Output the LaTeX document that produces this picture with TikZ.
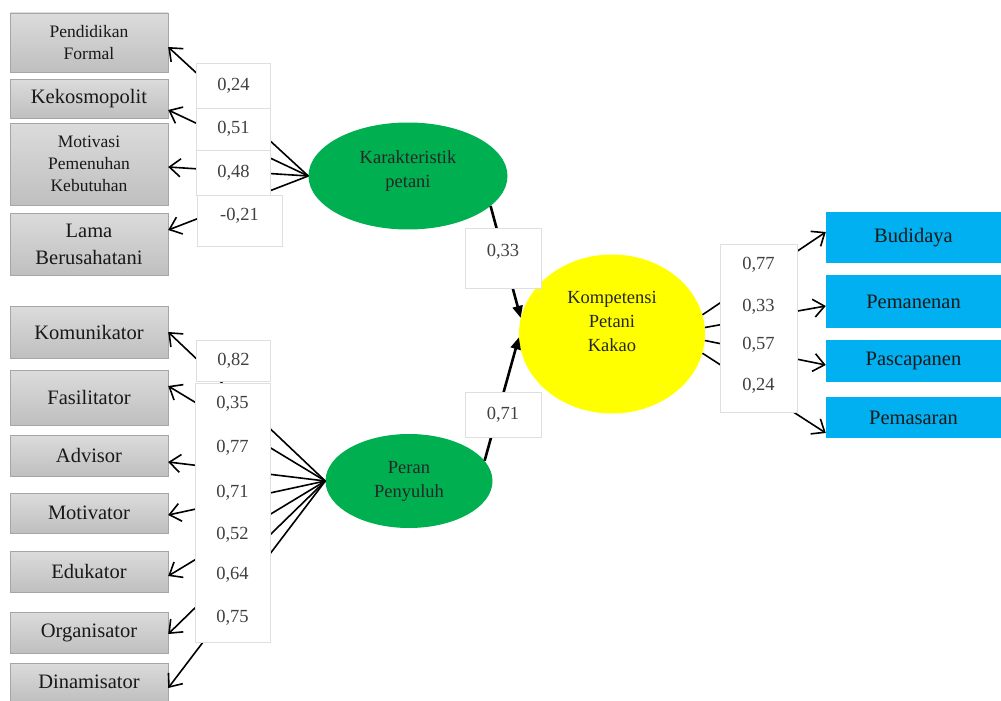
\documentclass[tikz,border=0pt]{standalone}
\usepackage{fontspec}
\setmainfont{Liberation Serif}
\usetikzlibrary{arrows.meta,shapes,calc}

\definecolor{boxblue}{RGB}{0,176,240}
\definecolor{ovgreen}{RGB}{0,176,80}
\definecolor{ovyellow}{RGB}{255,255,0}

\begin{document}
\begin{tikzpicture}[x=1pt,y=-1pt,
    ind/.style={rectangle, draw=gray!70, top color=gray!28, bottom color=gray!50,
      minimum width=158pt, align=center, inner sep=0pt, text=black!90},
    outd/.style={rectangle, fill=boxblue, minimum width=175pt, inner sep=0pt,
      text=black!90, font=\fontsize{20.5}{23}\selectfont},
    lat/.style={ellipse, inner sep=0pt, align=center, text=black!85,
      font=\fontsize{18.5}{24}\selectfont},
    lbl/.style={rectangle, fill=white, draw=gray!25, minimum width=74pt,
      inner sep=0pt, text=black!75, font=\fontsize{18.5}{20}\selectfont},
    load/.style={-{Straight Barb[length=11pt,width=18pt]}, line width=1.6pt},
    effect/.style={-{Triangle[length=12pt,width=10pt]}, line width=2.6pt}]

  \useasboundingbox (0,0) rectangle (1001,701);

  % latent variables
  \node [lat, fill=ovgreen, minimum width=199pt, minimum height=107pt, text depth=14pt]
    (kar) at (408,176) {Karakteristik\\petani};
  \node [lat, fill=ovyellow, minimum width=186pt, minimum height=159pt, text depth=25pt]
    (kom) at (612,334) {Kompetensi\\Petani\\Kakao};
  \node [lat, fill=ovgreen, minimum width=167pt, minimum height=94pt]
    (per) at (409,481) {Peran\\Penyuluh};

  % indicators of Karakteristik petani
  \foreach \i/\yc/\hh/\fs/\bsk/\ty/\txt in {
      1/42.5/59/17.5/22/47/{Pendidikan\\Formal},
      2/98.5/39/20.5/23/110/{Kekosmopolit},
      3/164/82/17.5/22/167/{Motivasi\\Pemenuhan\\Kebutuhan},
      4/244/62/20.5/27/230/{Lama\\Berusahatani}} {
    \node [ind, minimum height=\hh, font=\fontsize{\fs}{\bsk}\selectfont]
      (kar-\i) at (89,\yc) {\txt};
    \draw [load] (kar.west) -- (kar-\i.east |- 0,\ty);
  }

  % indicators of Peran Penyuluh
  \foreach \i/\yc/\hh/\ty/\txt in {
      1/332/52/332/Komunikator,
      2/397.5/55/386/Fasilitator,
      3/455.5/41/462/Advisor,
      4/513/40/515/Motivator,
      5/571.5/41/576/Edukator,
      6/632.5/41/634/Organisator,
      7/682/38/688/Dinamisator} {
    \node [ind, minimum height=\hh, font=\fontsize{20.5}{23}\selectfont]
      (per-\i) at (89,\yc) {\txt};
    \draw [load] (per.west) -- (per-\i.east |- 0,\ty);
  }

  % indicators of Kompetensi Petani Kakao
  \foreach \i/\yc/\hh/\ty/\an/\txt in {
      1/237.5/51/232/12/Budidaya,
      2/301.5/53/306/4/Pemanenan,
      3/361/42/365/-4/Pascapanen,
      4/417.5/41/433/-12/Pemasaran} {
    \node [outd, minimum height=\hh] (kom-\i) at (913.5,\yc) {\txt};
    \draw [load] (kom.\an) -- (kom-\i.west |- 0,\ty);
  }

  % structural paths
  \draw [effect] (kar.-20) -- (kom.170);
  \draw [effect] (per.15) -- (kom.182);

  % loadings
  \foreach \i/\yc/\hh/\val in {1/85.5/45/{0,24}, 2/129/42/{0,51}, 3/172.5/45/{0,48}} {
    \node [lbl, minimum height=\hh] (kar-lbl-\i) at (233.5,\yc) {\val};
  }
  \node [lbl, minimum width=85pt, minimum height=51, text depth=12pt]
    (kar-lbl-4) at (239.5,220.5) {-0,21};

  \node [lbl, minimum height=41] (per-lbl-1) at (233.5,360.5) {0,82};
  \node [lbl, minimum width=75pt, minimum height=259] (per-box) at (232.5,512.5) {};
  \foreach \i/\yc/\val in {2/404/{0,35}, 3/448/{0,77}, 4/493/{0,71},
                           5/535/{0,52}, 6/575/{0,64}, 7/618/{0,75}} {
    \node [lbl, draw=none, minimum height=20] (per-lbl-\i) at (232.5,\yc) {\val};
  }

  \node [lbl, minimum width=77pt, minimum height=168] (kom-box) at (758.5,328) {};
  \foreach \i/\yc/\val in {1/265/{0,77}, 2/307/{0,33}, 3/345/{0,57}, 4/386/{0,24}} {
    \node [lbl, draw=none, minimum height=20] (kom-lbl-\i) at (758.5,\yc) {\val};
  }

  \node [lbl, minimum width=76pt, minimum height=60, text depth=16pt]
    (kar-kom) at (503,258) {0,33};
  \node [lbl, minimum width=76pt, minimum height=45] (per-kom) at (503,414.5) {0,71};
\end{tikzpicture}
\end{document}
